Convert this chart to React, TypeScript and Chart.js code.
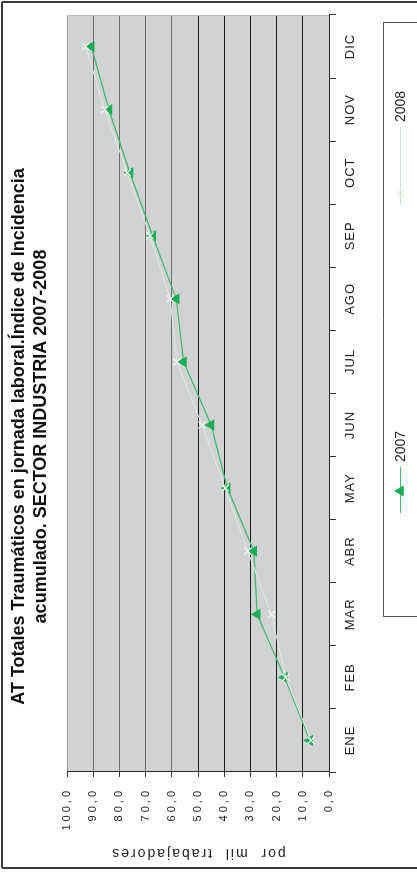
import React, { useEffect, useRef } from 'react';
import { Chart, registerables } from 'chart.js';

Chart.register(...registerables);

const months = ['ENE', 'FEB', 'MAR', 'ABR', 'MAY', 'JUN', 'JUL', 'AGO', 'SEP', 'OCT', 'NOV', 'DIC'];
const serie2007 = [7.3, 17.0, 27.4, 28.7, 38.8, 45.0, 55.5, 58.3, 67.3, 76.0, 84.0, 90.7];
const serie2008 = [6.9, 16.5, 22.0, 31.0, 39.6, 48.5, 58.1, 60.6, 68.3, 77.0, 85.6, 92.9];
const seriesLabels = ['2007', '2008'];
const titleLines = [
  'AT Totales Traumáticos en jornada laboral.Índice de Incidencia',
  'acumulado. SECTOR INDUSTRIA 2007-2008',
];
const yAxisTitle = 'por  mil  trabajadores';
const yMin = 0;
const yMax = 100;
const yStep = 10;

const W = 873;
const H = 417;
const FONT = '"Liberation Sans", Arial, Helvetica, sans-serif';

const C2007_LINE = '#3cbb6c';
const C2007_POINT = '#1cae54';
const C2008_LINE = '#e4ebe4';
const C2008_POINT = '#f4f7f4';
const C2008_LEGEND = '#c9e8d1';

function patchSpacing(scale: any, labelSp: string, titleSp: string) {
  if (scale.__patched) return;
  scale.__patched = true;
  const dl = scale.drawLabels.bind(scale);
  scale.drawLabels = (area: any) => {
    const c = scale.ctx;
    c.save();
    c.letterSpacing = labelSp;
    dl(area);
    c.restore();
  };
  const dt = scale.drawTitle.bind(scale);
  scale.drawTitle = () => {
    const c = scale.ctx;
    c.save();
    c.letterSpacing = titleSp;
    dt();
    c.restore();
  };
}

const bgPlugin = {
  id: 'plotBg',
  beforeDraw(chart: any) {
    const { ctx, chartArea: a } = chart;
    ctx.save();
    ctx.fillStyle = '#ffffff';
    ctx.fillRect(0, 0, chart.width, chart.height);
    ctx.fillStyle = '#d1d2d4';
    ctx.fillRect(a.left, a.top, a.right - a.left, a.bottom - a.top);
    ctx.restore();
  },
};

function hline(c: any, x1: number, x2: number, y: number) {
  c.beginPath();
  c.moveTo(x1, y);
  c.lineTo(x2, y);
  c.stroke();
}
function vline(c: any, x: number, y1: number, y2: number) {
  c.beginPath();
  c.moveTo(x, y1);
  c.lineTo(x, y2);
  c.stroke();
}

const framePlugin = {
  id: 'frameLegend',
  afterDraw(chart: any) {
    const c = chart.ctx;
    const a = chart.chartArea;
    c.save();
    // plot right edge
    c.strokeStyle = '#b9b9b9';
    c.lineWidth = 1;
    vline(c, Math.round(a.right) - 0.5, a.top, a.bottom);

    // outer frame
    c.strokeStyle = '#3c3c3c';
    c.lineWidth = 2;
    hline(c, 5, 871, 2);
    vline(c, 5, 2, H);
    vline(c, 871, 2, H);

    // legend box
    c.strokeStyle = '#555555';
    c.lineWidth = 1;
    hline(c, 256, 851, 383.5);
    vline(c, 256.5, 383, H);
    vline(c, 850.5, 383, H);

    const ds = chart.data.datasets;
    c.font = '14px ' + FONT;
    c.textAlign = 'left';
    c.textBaseline = 'middle';
    c.fillStyle = '#222';

    // 2007 entry
    const y1 = 400.5;
    c.strokeStyle = ds[1].borderColor;
    c.lineWidth = 1.2;
    hline(c, 360, 406, y1);
    c.fillStyle = ds[1].pointBackgroundColor;
    const r = 6.5;
    const cx = 382;
    c.beginPath();
    c.moveTo(cx, y1 - r);
    c.lineTo(cx + r * 0.866, y1 + r * 0.5);
    c.lineTo(cx - r * 0.866, y1 + r * 0.5);
    c.closePath();
    c.fill();
    c.fillStyle = '#222';
    c.fillText(ds[1].label, 411, y1 + 0.5);

    // 2008 entry
    c.strokeStyle = C2008_LEGEND;
    c.lineWidth = 1;
    hline(c, 668, 746, y1);
    const cx2 = 680;
    const rr = 5;
    c.beginPath();
    c.moveTo(cx2 - rr * 0.8, y1 - rr * 0.8);
    c.lineTo(cx2 + rr * 0.8, y1 + rr * 0.8);
    c.moveTo(cx2 - rr * 0.8, y1 + rr * 0.8);
    c.lineTo(cx2 + rr * 0.8, y1 - rr * 0.8);
    c.stroke();
    c.fillStyle = '#222';
    c.fillText(ds[0].label, 751, y1 + 0.5);
    c.restore();
  },
};

export default function App() {
  const ref = useRef<HTMLCanvasElement | null>(null);

  useEffect(() => {
    const canvas = ref.current;
    if (!canvas) return;
    const chart = new Chart(canvas, {
      type: 'line',
      data: {
        labels: months,
        datasets: [
          {
            label: seriesLabels[1],
            data: serie2008,
            order: 0,
            borderColor: C2008_LINE,
            borderWidth: 1,
            pointStyle: 'crossRot',
            pointRadius: 5,
            pointBorderWidth: 1.2,
            pointBorderColor: C2008_POINT,
            pointBackgroundColor: C2008_POINT,
            tension: 0,
            fill: false,
          },
          {
            label: seriesLabels[0],
            data: serie2007,
            order: 1,
            borderColor: C2007_LINE,
            borderWidth: 1.2,
            pointStyle: 'triangle',
            pointRadius: 6.5,
            pointBorderWidth: 0,
            pointBorderColor: C2007_POINT,
            pointBackgroundColor: C2007_POINT,
            tension: 0,
            fill: false,
          },
        ],
      },
      options: {
        responsive: false,
        animation: false,
        devicePixelRatio: 1,
        layout: { padding: 0 },
        plugins: {
          legend: { display: false },
          tooltip: { enabled: false },
          title: {
            display: true,
            text: titleLines,
            color: '#111',
            font: { family: FONT, size: 18, weight: 'bold', lineHeight: 22 / 18 },
            padding: { top: 8, bottom: 15 },
          },
        },
        scales: {
          x: {
            type: 'category',
            offset: true,
            grid: {
              offset: true,
              drawOnChartArea: false,
              drawTicks: true,
              tickLength: 7,
              tickColor: '#333',
              tickWidth: 1,
            },
            border: { display: true, color: '#2a2a2a', width: 1 },
            ticks: {
              color: '#222',
              font: { family: FONT, size: 13 },
              padding: 7,
              maxRotation: 0,
              autoSkip: false,
            },
            afterFit: (s: any) => {
              s.height = 88;
              patchSpacing(s, '1px', '0px');
            },
          },
          y: {
            type: 'linear',
            min: yMin,
            max: yMax,
            ticks: {
              stepSize: yStep,
              color: '#222',
              font: { family: FONT, size: 11 },
              padding: 11,
              callback: (v: any) => Number(v).toFixed(1).replace('.', ','),
            },
            grid: {
              color: (ctx: any) => {
                const v = ctx.tick ? ctx.tick.value : 0;
                if (v === 100) return '#a0a0a0';
                if (v >= 60) return '#6c6c6c';
                return '#1e1e1e';
              },
              lineWidth: 1,
              tickLength: 5,
              tickColor: '#333',
            },
            border: { display: true, color: '#2a2a2a', width: 1 },
            title: {
              display: true,
              text: yAxisTitle,
              color: '#222',
              font: { family: FONT, size: 14 },
              padding: { top: 12, bottom: 0 },
            },
            afterFit: (s: any) => {
              s.width = 101;
              patchSpacing(s, '3px', '2px');
            },
          },
          yR: {
            type: 'linear',
            position: 'right',
            display: true,
            grid: { display: false },
            ticks: { display: false },
            border: { display: false },
            afterFit: (s: any) => {
              s.width = 15;
            },
          },
        },
      },
      plugins: [bgPlugin, framePlugin],
    } as any);
    return () => chart.destroy();
  }, []);

  return (
    <div
      style={{
        position: 'fixed',
        left: 0,
        top: 0,
        width: 417,
        height: 873,
        overflow: 'hidden',
        background: '#fff',
      }}
    >
      <div
        style={{
          position: 'absolute',
          left: 0,
          top: 0,
          width: W,
          height: H,
          transformOrigin: '0 0',
          transform: `translateY(${W}px) rotate(-90deg)`,
        }}
      >
        <canvas ref={ref} width={W} height={H} style={{ display: 'block', width: W, height: H }} />
      </div>
    </div>
  );
}
